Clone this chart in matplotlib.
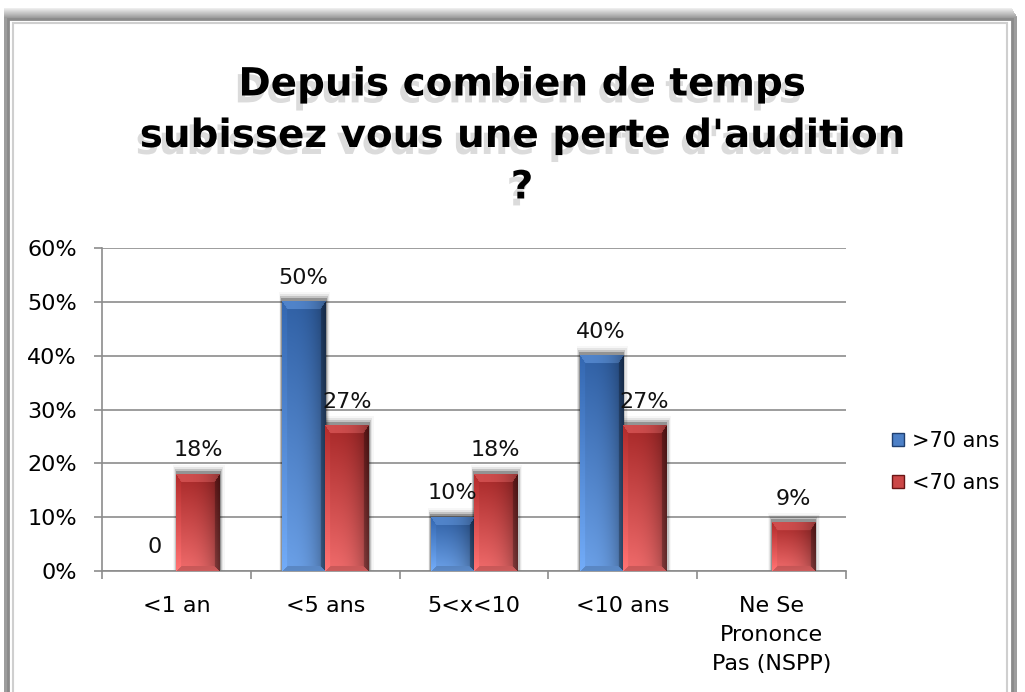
import numpy as np
import matplotlib
matplotlib.use("Agg")
import matplotlib.pyplot as plt
from matplotlib.patches import Rectangle, Patch
import matplotlib.patheffects as pe

categories = ["<1 an", "<5 ans", "5<x<10", "<10 ans", "Ne Se\nPrononce\nPas (NSPP)"]
series_names = [">70 ans", "<70 ans"]
over70 = [0, 50, 10, 40, np.nan]
under70 = [18, 27, 18, 27, 9]
over70_labels = ["0", "50%", "10%", "40%", ""]
under70_labels = ["18%", "27%", "18%", "27%", "9%"]
yticks = [0, 10, 20, 30, 40, 50, 60]
title = "Depuis combien de temps\nsubissez vous une perte d'audition\n?"

BLUE = np.array([0.30, 0.50, 0.78])
RED = np.array([0.80, 0.28, 0.28])
BLUE_TOP, BLUE_BOT = np.array([0.19, 0.38, 0.65]), np.array([0.42, 0.63, 0.91])
RED_TOP, RED_BOT = np.array([0.66, 0.16, 0.16]), np.array([0.94, 0.42, 0.42])

FONT = "DejaVu Sans"
FS = 16
fig = plt.figure(figsize=(10.25, 6.92), dpi=100)
fig.patch.set_facecolor("white")

W, H = 1025, 692
def fx(p): return p / W
def fy(p): return 1 - p / H

# frame shadow (top and right gradient)
for k in range(10):
    g = 0.93 - 0.035 * k
    fig.patches.append(Rectangle((fx(4), fy(720)), fx(1012 + k * 0.6) - fx(4), fy(8 + k) - fy(720),
                                 transform=fig.transFigure, facecolor=(g, g, g), lw=0, zorder=-5 + k * 0.01))
fig.patches.append(Rectangle((fx(8), fy(720)), fx(1004), fy(19) - fy(720),
                             transform=fig.transFigure, facecolor="white",
                             edgecolor="#8a8a8a", lw=2.0, zorder=-2))
fig.patches.append(Rectangle((fx(13), fy(720)), fx(994), fy(23) - fy(720),
                             transform=fig.transFigure, facecolor="none",
                             edgecolor="#cfcfcf", lw=1.5, zorder=-1))

left, right, top, bottom = 102, 846, 248, 571
ax = fig.add_axes([fx(left), fy(bottom), fx(right - left), fy(top) - fy(bottom)])
ax.set_zorder(2)
ax.set_facecolor("none")

n = len(categories)
x = np.arange(n)
bw = 0.29
ax.set_xlim(-0.5, n - 0.5)
ax.set_ylim(0, 60)

b1 = ax.bar(x - bw / 2, np.nan_to_num(over70), bw, color=BLUE, zorder=3, lw=0)
b2 = ax.bar(x + bw / 2, under70, bw, color=RED, zorder=3, lw=0)

def bevel_image(wpx, hpx, ctop, cbot, bt=8, bs=5):
    wpx = max(int(round(wpx)), 2)
    hpx = max(int(round(hpx)), 2)
    i = np.arange(hpx)[:, None] * np.ones((1, wpx))
    j = np.ones((hpx, 1)) * np.arange(wpx)[None, :]
    t = (i / max(hpx - 1, 1))[:, :, None]
    col = ctop[None, None, :] * (1 - t) + cbot[None, None, :] * t
    mid = 0.45 * ctop + 0.55 * cbot
    u = j / max(wpx - 1, 1)
    fac = 1.0 - 0.35 * u ** 3
    dt, db = i / bt, (hpx - 1 - i) / bs
    dl, dr = j / bs, (wpx - 1 - j) / bs
    m = np.minimum.reduce([dt, db, dl, dr])
    inb = m < 1
    topface = inb & (m == dt)
    col = np.where(topface[:, :, None], mid[None, None, :], col)
    fac = np.where(topface, 1.0 - 0.3 * u ** 3, fac)
    fac = np.where(inb & (m == dl) & (m != dt), 1.07, fac)
    fac = np.where(inb & (m == dr) & (m != dt), 0.42 + 0.15 * dr, fac)
    fac = np.where(inb & (m == db) & (m != dl) & (m != dr), 0.85, fac)
    return np.clip(col * fac[:, :, None], 0, 1)

ppd_x = (right - left) / n
ppd_y = (bottom - top) / 60.0
for bars, ct, cb in ((b1, BLUE_TOP, BLUE_BOT), (b2, RED_TOP, RED_BOT)):
    for r in bars:
        h = r.get_height()
        if not h or h <= 0:
            continue
        x0, w = r.get_x(), r.get_width()
        for k, a in enumerate([0.25, 0.14, 0.07, 0.03]):
            dx = (k + 1) * 1.3 / ppd_x
            dy = (k + 1) * 2.0 / ppd_y
            ax.add_patch(Rectangle((x0 - dx * 0.6, 0), w + 1.6 * dx, h + dy + 1.5 / ppd_y,
                                   facecolor=(0, 0, 0, a), lw=0, zorder=2))
        img = bevel_image(w * ppd_x, h * ppd_y, ct, cb)
        ax.imshow(img, extent=(x0, x0 + w, 0, h), aspect="auto", zorder=4,
                  interpolation="bilinear")

ax.set_xlim(-0.5, n - 0.5)
ax.set_ylim(0, 60)

for bars, labs in ((b1, over70_labels), (b2, under70_labels)):
    for r, lab in zip(bars, labs):
        if not lab:
            continue
        ax.annotate(lab, (r.get_x() + r.get_width() / 2, r.get_height()),
                    xytext=(0, 10), textcoords="offset points", ha="center", va="bottom",
                    fontsize=FS, family=FONT, color="#111111", zorder=6)

ax.set_yticks(yticks)
ax.set_yticklabels([f"{v}%" for v in yticks], fontsize=FS, family=FONT)
ax.set_xticks(x)
ax.set_xticklabels(categories, fontsize=FS, family=FONT, linespacing=1.55)
ax.set_xticks(np.arange(n + 1) - 0.5, minor=True)
ax.tick_params(axis="x", which="major", length=0, pad=18)
ax.tick_params(axis="x", which="minor", length=6, color="#8c8c8c", width=1.2)
ax.tick_params(axis="y", length=6, color="#8c8c8c", width=1.2, pad=12)
ax.grid(axis="y", color="#8c8c8c", lw=1.2, zorder=1)
ax.set_axisbelow(True)
for s in ["top", "right"]:
    ax.spines[s].set_visible(False)
for s in ["left", "bottom"]:
    ax.spines[s].set_color("#8c8c8c")
    ax.spines[s].set_linewidth(1.2)

leg = fig.legend([Patch(facecolor=BLUE, edgecolor="#1f3f70"), Patch(facecolor=RED, edgecolor="#6a1515")],
                 series_names, loc="center left", bbox_to_anchor=(fx(873), fy(462)),
                 frameon=False, prop={"family": FONT, "size": 15},
                 handlelength=0.6, handleheight=0.6, handletextpad=0.35, labelspacing=1.05)

fig.text(fx(522), fy(136), title, ha="center", va="center", fontsize=28,
         fontweight="bold", family="DejaVu Sans", linespacing=1.45, color="black",
         path_effects=[pe.SimplePatchShadow(offset=(-3, -5), shadow_rgbFace="#888888", alpha=0.3),
                       pe.Normal()])

fig.savefig("out.png", dpi=100, facecolor="white")
